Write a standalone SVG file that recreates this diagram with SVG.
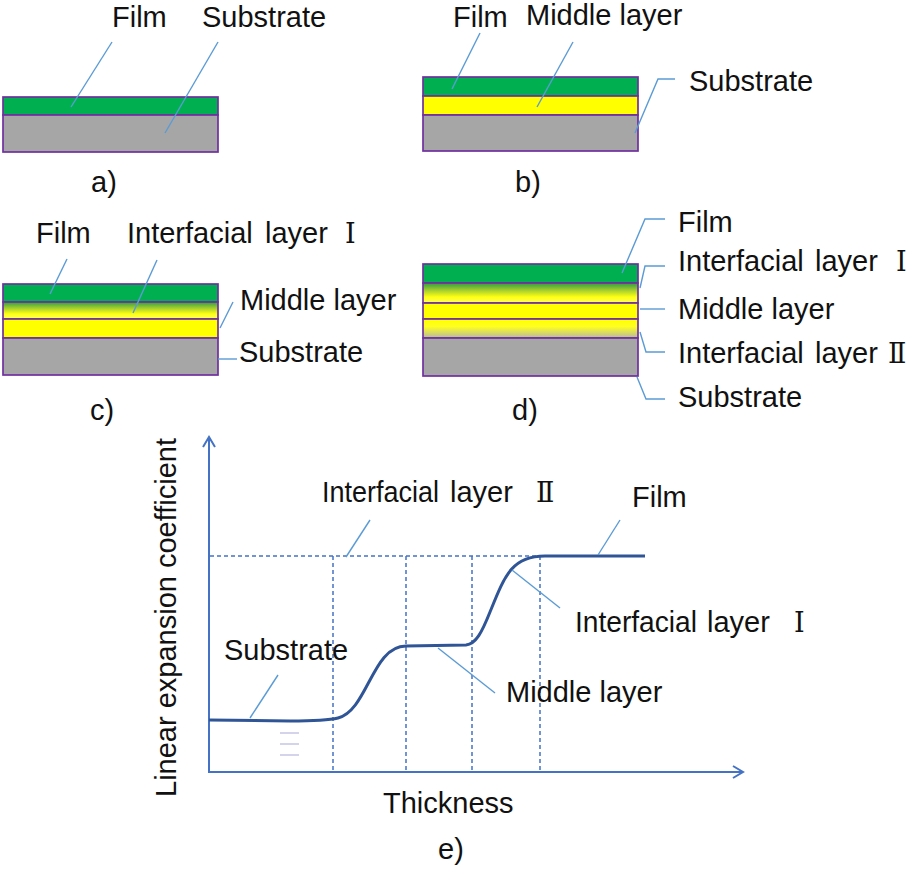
<svg xmlns="http://www.w3.org/2000/svg" width="910" height="870" viewBox="0 0 910 870">
<defs>
<style>
.t{font-family:"Liberation Sans",Arial,sans-serif;font-size:29px;fill:#111}
.r{font-family:"DejaVu Serif","Noto Sans CJK SC",serif;font-size:27px;fill:#111}
.ld{fill:none;stroke:#5B9BD5;stroke-width:1.4}
.ly{stroke:#7030A0;stroke-width:1.7}
.ax{fill:none;stroke:#4472C4;stroke-width:2}
.ds{fill:none;stroke:#4472C4;stroke-width:1.5;stroke-dasharray:4 3}
.film{fill:#00B050}
.mid{fill:#FFFF00}
.sub{fill:#A6A6A6}
</style>
<linearGradient id="g1" x1="0" y1="0" x2="0" y2="1">
<stop offset="0" stop-color="#2E9E40"/>
<stop offset="0.35" stop-color="#A0CC30"/>
<stop offset="0.7" stop-color="#FFFF10"/>
<stop offset="1" stop-color="#FFFF60"/>
</linearGradient>
<linearGradient id="g2" x1="0" y1="0" x2="0" y2="1">
<stop offset="0" stop-color="#FFFF00"/>
<stop offset="0.4" stop-color="#FFFF20"/>
<stop offset="1" stop-color="#B8B8A0"/>
</linearGradient>
<marker id="ah" markerWidth="14" markerHeight="14" refX="12" refY="7" orient="auto" markerUnits="userSpaceOnUse">
<path d="M2,1 L12,7 L2,13" fill="none" stroke="#4472C4" stroke-width="2"/>
</marker>
</defs>

<!-- Panel a -->
<g id="panel-a">
<rect class="film ly" x="3" y="97" width="215" height="18"/>
<rect class="sub ly" x="3" y="115" width="215" height="37"/>
<text class="t" x="112" y="27">Film</text>
<text class="t" x="202" y="27">Substrate</text>
<text class="t" x="91" y="192">a)</text>
</g>

<!-- Panel b -->
<g id="panel-b">
<rect class="film ly" x="423" y="77" width="215" height="19"/>
<rect class="mid ly" x="423" y="96" width="215" height="19"/>
<rect class="sub ly" x="423" y="115" width="215" height="36"/>
<text class="t" x="453" y="27">Film</text>
<text class="t" x="526" y="25">Middle layer</text>
<text class="t" x="689" y="91">Substrate</text>
<text class="t" x="515" y="192">b)</text>
</g>

<!-- Panel c -->
<g id="panel-c">
<rect class="film ly" x="3" y="284" width="215" height="18"/>
<rect class="ly" fill="url(#g1)" x="3" y="302" width="215" height="17"/>
<rect class="mid ly" x="3" y="319" width="215" height="19"/>
<rect class="sub ly" x="3" y="338" width="215" height="37"/>
<text class="t" x="36" y="243">Film</text>
<text class="t" x="127" y="243">Interfacial<tspan x="265">layer</tspan></text>
<text class="r" x="345" y="243">Ⅰ</text>
<text class="t" x="240" y="310">Middle layer</text>
<text class="t" x="239" y="362">Substrate</text>
<text class="t" x="90" y="420">c)</text>
</g>

<!-- Panel d -->
<g id="panel-d">
<rect class="film ly" x="423" y="264" width="215" height="19"/>
<rect class="ly" fill="url(#g1)" x="423" y="283" width="215" height="20"/>
<rect class="mid ly" x="423" y="303" width="215" height="16"/>
<rect class="ly" fill="url(#g2)" x="423" y="319" width="215" height="19"/>
<rect class="sub ly" x="423" y="338" width="215" height="38"/>
<text class="t" x="678" y="232">Film</text>
<text class="t" x="678" y="271">Interfacial<tspan x="815">layer</tspan></text>
<text class="r" x="896" y="271">Ⅰ</text>
<text class="t" x="678" y="319">Middle layer</text>
<text class="t" x="678" y="363">Interfacial<tspan x="815">layer</tspan></text>
<text class="r" x="888" y="363">Ⅱ</text>
<text class="t" x="678" y="407">Substrate</text>
<text class="t" x="512" y="420">d)</text>
</g>

<!-- Panel e -->
<g id="panel-e">
<line class="ax" x1="209" y1="773" x2="209" y2="437" marker-end="url(#ah)"/>
<line class="ax" x1="209" y1="772" x2="743" y2="772" marker-end="url(#ah)"/>
<line class="ds" x1="210" y1="556" x2="540" y2="556"/>
<line class="ds" x1="333" y1="556" x2="333" y2="772"/>
<line class="ds" x1="406" y1="556" x2="406" y2="772"/>
<line class="ds" x1="472" y1="556" x2="472" y2="772"/>
<line class="ds" x1="540" y1="556" x2="540" y2="772"/>
<path d="M209,720 L290,721 C315,721 330,720 338,718 C368,710 372,646 406,646 L466,645 C476,644 482,632 490,612 C505,575 512,556 545,556 L645,556" fill="none" stroke="#2F5597" stroke-width="3"/>
<g stroke="#C4C4E4" stroke-width="1.5">
<line x1="280" y1="733" x2="299" y2="733"/>
<line x1="280" y1="744" x2="299" y2="744"/>
<line x1="280" y1="755" x2="299" y2="755"/>
</g>
<text class="t" transform="translate(176,797) rotate(-90)">Linear expansion coefficient</text>
<text class="t" x="383" y="813">Thickness</text>
<text class="t" x="438" y="859">e)</text>
<text class="t" x="322" y="502"><tspan textLength="117" lengthAdjust="spacingAndGlyphs">Interfacial</tspan><tspan x="450">layer</tspan></text>
<text class="r" x="536" y="502">Ⅱ</text>
<text class="t" x="632" y="507">Film</text>
<text class="t" x="575" y="632"><tspan textLength="122" lengthAdjust="spacingAndGlyphs">Interfacial</tspan><tspan x="707">layer</tspan></text>
<text class="r" x="794" y="632">Ⅰ</text>
<text class="t" x="224" y="660">Substrate</text>
<text class="t" x="506" y="702">Middle layer</text>
</g>

<!-- Connectors (leader lines) -->
<g id="connectors">
<line class="ld" x1="112" y1="42" x2="71" y2="107"/>
<line class="ld" x1="218" y1="42" x2="165" y2="133"/>
<line class="ld" x1="480" y1="33" x2="452" y2="89"/>
<line class="ld" x1="573" y1="42" x2="537" y2="107"/>
<polyline class="ld" points="675,79 658,79 635,133"/>
<line class="ld" x1="67" y1="259" x2="50" y2="294"/>
<line class="ld" x1="157" y1="260" x2="133" y2="313"/>
<line class="ld" x1="233" y1="302" x2="220" y2="328"/>
<line class="ld" x1="218" y1="359" x2="237" y2="359"/>
<polyline class="ld" points="665,219 645,219 622,273"/>
<polyline class="ld" points="665,266 645,266 640,288"/>
<line class="ld" x1="640" y1="309" x2="665" y2="309"/>
<polyline class="ld" points="640,332 646,352 665,352"/>
<polyline class="ld" points="637,377 646,399 665,399"/>
<line class="ld" x1="370" y1="520" x2="346" y2="557"/>
<line class="ld" x1="620" y1="520" x2="598" y2="555"/>
<line class="ld" x1="512" y1="570" x2="560" y2="608"/>
<line class="ld" x1="278" y1="675" x2="250" y2="718"/>
<line class="ld" x1="438" y1="648" x2="495" y2="693"/>
</g>
</svg>
